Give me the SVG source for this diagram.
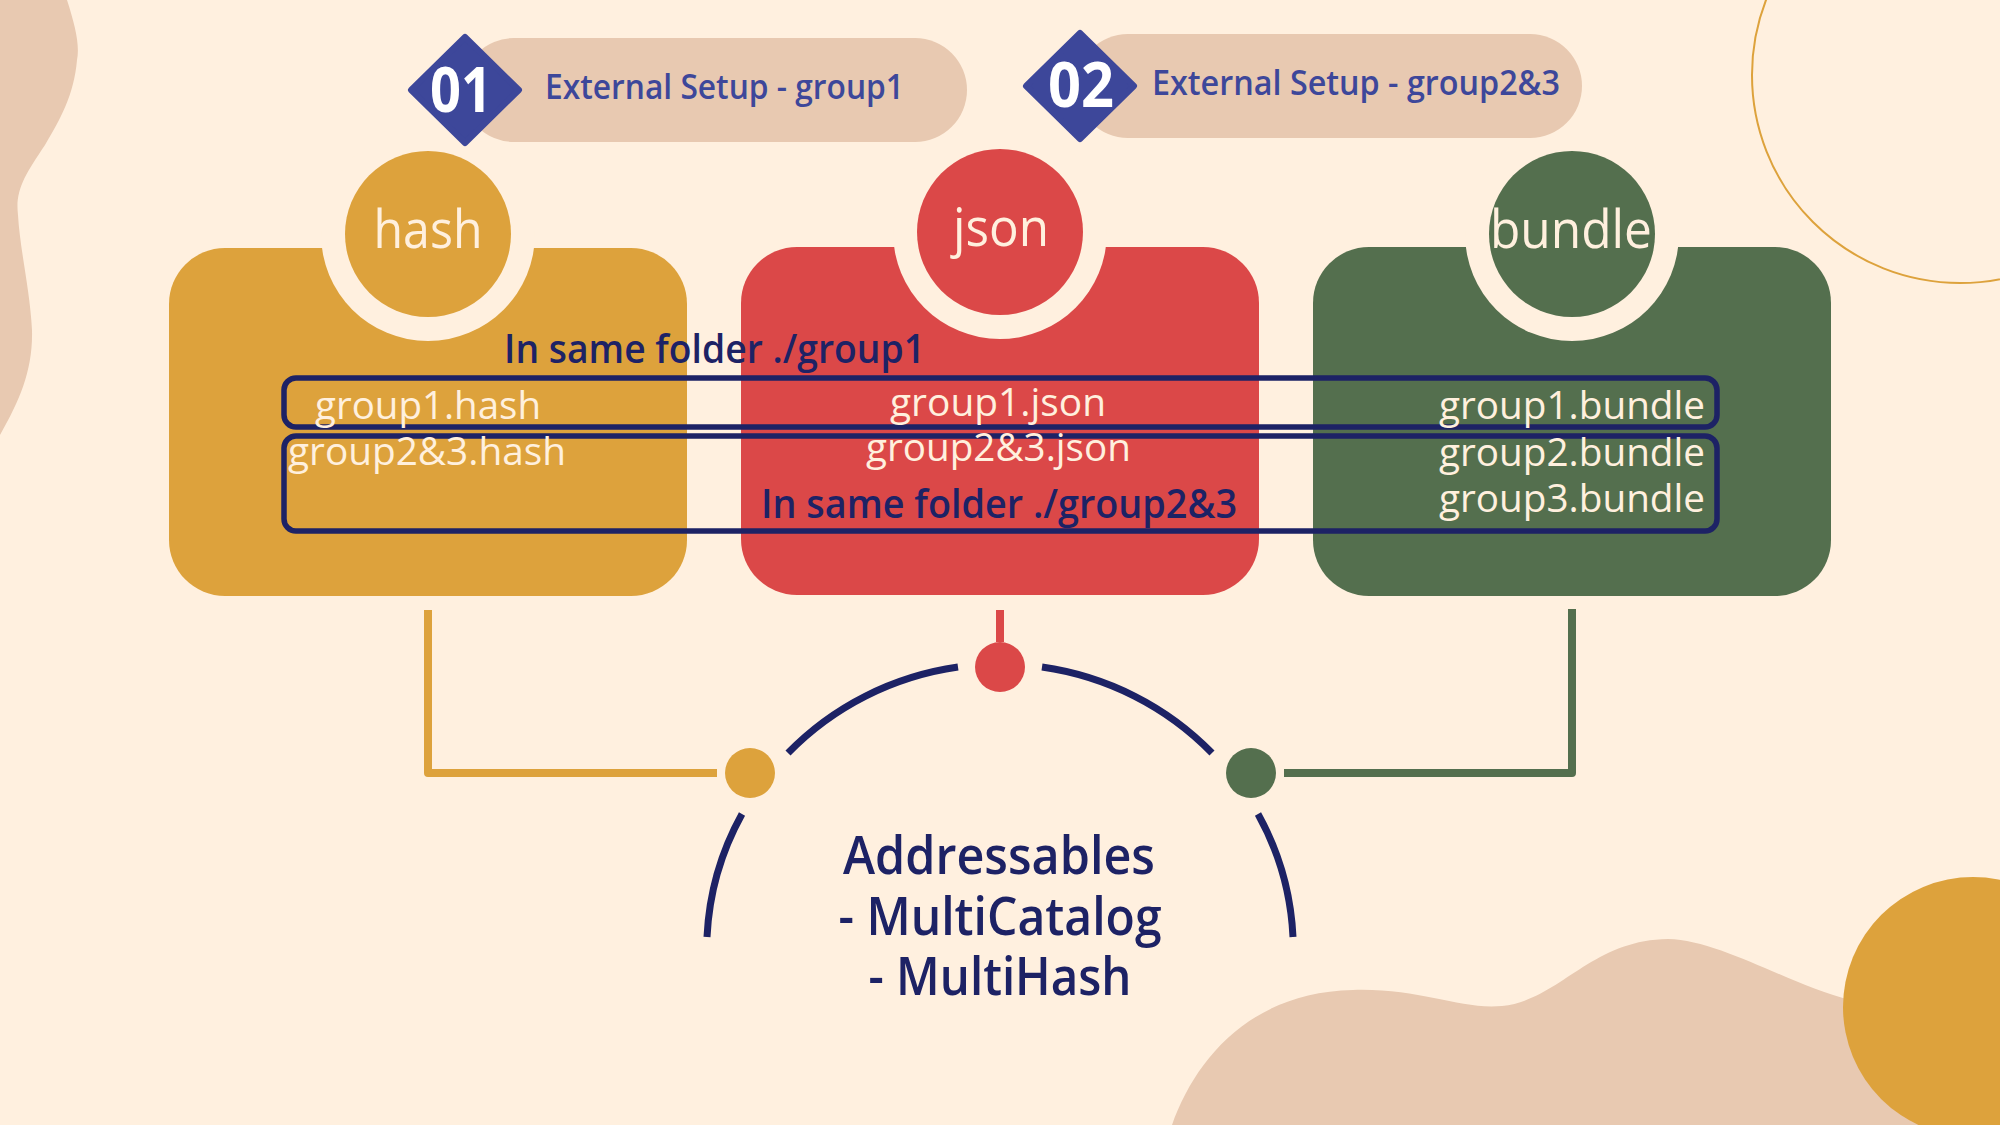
<svg xmlns="http://www.w3.org/2000/svg" width="2000" height="1125" viewBox="0 0 2000 1125">
  <defs>
    <style>
      .t { font-family: "Open Sans", "Liberation Sans", sans-serif; }
      .cream { fill: #FFF0DE; }
      .navy { fill: #1D2265; }
      .blue { fill: #3D479A; }
      .lbl { font-size: 53px; font-weight: 500; }
      .file { font-size: 38px; font-weight: 400; }
      .folder { font-size: 39px; font-weight: 600; }
      .hdr { font-size: 35px; font-weight: 600; }
      .num { font-size: 63px; font-weight: 700; fill: #FFFFFF; }
      .big { font-size: 52px; font-weight: 600; }
      .ring { fill: #FFF0DF; }
      .frame { fill: none; stroke: #1D2265; stroke-width: 5.5; }
      .arc { fill: none; stroke: #1D2265; stroke-width: 7; }
      .pill { fill: #E8C9B1; }
      .diamond { fill: #3D479A; stroke: #3D479A; stroke-width: 6; stroke-linejoin: round; }
    </style>
  </defs>

  <!-- background -->
  <rect x="0" y="0" width="2000" height="1125" fill="#FFF0DF"/>
  <path d="M0,0 L67,0 C75,25 80,45 77,60 C74,95 60,120 45,145 C25,175 15,190 18,215 C20,250 30,290 32,330 C33,370 20,400 0,435 Z" fill="#E8C9B1"/>
  <circle cx="1960" cy="75" r="208" fill="none" stroke="#DDA23C" stroke-width="2"/>
  <path d="M1172,1125 C1195,1060 1250,992 1353,990 C1420,988 1460,1010 1502,1006 C1560,1000 1590,940 1668,939 C1720,940 1790,985 1850,1000 L2000,1050 L2000,1125 Z" fill="#E8C9B1"/>
  <circle cx="1973" cy="1007" r="130" fill="#DDA23C"/>

  <!-- nodes -->
  <g id="node-hash">
    <rect x="169" y="248" width="518" height="348" rx="56" fill="#DDA23C"/>
    <circle class="ring" cx="428" cy="234" r="107"/>
    <circle cx="428" cy="234" r="83" fill="#DDA23C"/>
    <text class="t lbl cream" x="428" y="248" text-anchor="middle" textLength="109" lengthAdjust="spacingAndGlyphs">hash</text>
  </g>
  <g id="node-json">
    <rect x="741" y="247" width="518" height="348" rx="56" fill="#DB4848"/>
    <circle class="ring" cx="1000" cy="232" r="107"/>
    <circle cx="1000" cy="232" r="83" fill="#DB4848"/>
    <text class="t lbl cream" x="1001" y="246" text-anchor="middle" textLength="96" lengthAdjust="spacingAndGlyphs">json</text>
  </g>
  <g id="node-bundle">
    <rect x="1313" y="247" width="518" height="349" rx="56" fill="#546F4E"/>
    <circle class="ring" cx="1572" cy="234" r="107"/>
    <circle cx="1572" cy="234" r="83" fill="#546F4E"/>
    <text class="t lbl cream" x="1571" y="248" text-anchor="middle" textLength="162" lengthAdjust="spacingAndGlyphs">bundle</text>
  </g>

  <!-- headers -->
  <g id="header-01">
    <rect class="pill" x="462" y="38" width="505" height="104" rx="52"/>
    <polygon class="diamond" points="465,37 519,90 465,143 411,90"/>
    <text class="t num" x="461" y="112" text-anchor="middle" textLength="62" lengthAdjust="spacingAndGlyphs">01</text>
    <text class="t hdr blue" x="545" y="99" textLength="359" lengthAdjust="spacingAndGlyphs">External Setup - group1</text>
  </g>
  <g id="header-02">
    <rect class="pill" x="1076" y="34" width="506" height="104" rx="52"/>
    <polygon class="diamond" points="1080,33 1134,86 1080,139 1026,86"/>
    <text class="t num" x="1081" y="107" text-anchor="middle" textLength="66" lengthAdjust="spacingAndGlyphs">02</text>
    <text class="t hdr blue" x="1152" y="95" textLength="408" lengthAdjust="spacingAndGlyphs">External Setup - group2&amp;3</text>
  </g>

  <!-- folder groupings -->
  <g id="folder-group1">
    <rect class="frame" x="284" y="378" width="1433" height="49" rx="12"/>
    <text class="t folder navy" x="504" y="363" textLength="421" lengthAdjust="spacingAndGlyphs">In same folder ./group1</text>
    <text class="t file cream" x="315" y="419" textLength="226" lengthAdjust="spacingAndGlyphs">group1.hash</text>
    <text class="t file cream" x="890" y="416" textLength="216" lengthAdjust="spacingAndGlyphs">group1.json</text>
    <text class="t file cream" x="1439" y="419" textLength="266" lengthAdjust="spacingAndGlyphs">group1.bundle</text>
  </g>
  <g id="folder-group2-3">
    <rect class="frame" x="284" y="436" width="1433" height="95" rx="12"/>
    <text class="t file cream" x="288" y="465" textLength="278" lengthAdjust="spacingAndGlyphs">group2&amp;3.hash</text>
    <text class="t file cream" x="866" y="461" textLength="265" lengthAdjust="spacingAndGlyphs">group2&amp;3.json</text>
    <text class="t file cream" x="1439" y="466" textLength="266" lengthAdjust="spacingAndGlyphs">group2.bundle</text>
    <text class="t file cream" x="1439" y="512" textLength="266" lengthAdjust="spacingAndGlyphs">group3.bundle</text>
    <text class="t folder navy" x="761" y="518" textLength="476" lengthAdjust="spacingAndGlyphs">In same folder ./group2&amp;3</text>
  </g>

  <!-- connectors -->
  <g id="connectors">
    <path d="M428,610 V773 H717" fill="none" stroke="#DDA23C" stroke-width="8" stroke-linejoin="round"/>
    <path d="M1000,610 V642" fill="none" stroke="#DB4848" stroke-width="8"/>
    <path d="M1572,609 V773 H1284" fill="none" stroke="#546F4E" stroke-width="8" stroke-linejoin="round"/>
    <path class="arc" d="M707,937 A293,286 0 0 1 742,814"/>
    <path class="arc" d="M788,753 A293,286 0 0 1 958,667"/>
    <path class="arc" d="M1042,667 A293,286 0 0 1 1212,753"/>
    <path class="arc" d="M1258,814 A293,286 0 0 1 1293,937"/>
    <circle cx="750" cy="773" r="25" fill="#DDA23C"/>
    <circle cx="1000" cy="667" r="25" fill="#DB4848"/>
    <circle cx="1251" cy="773" r="25" fill="#546F4E"/>
  </g>

  <!-- center node -->
  <g id="node-addressables">
    <text class="t big navy" x="999" y="874" text-anchor="middle" textLength="312" lengthAdjust="spacingAndGlyphs">Addressables</text>
    <text class="t big navy" x="1000" y="935" text-anchor="middle" textLength="323" lengthAdjust="spacingAndGlyphs">- MultiCatalog</text>
    <text class="t big navy" x="1000" y="995" text-anchor="middle" textLength="263" lengthAdjust="spacingAndGlyphs">- MultiHash</text>
  </g>
</svg>
